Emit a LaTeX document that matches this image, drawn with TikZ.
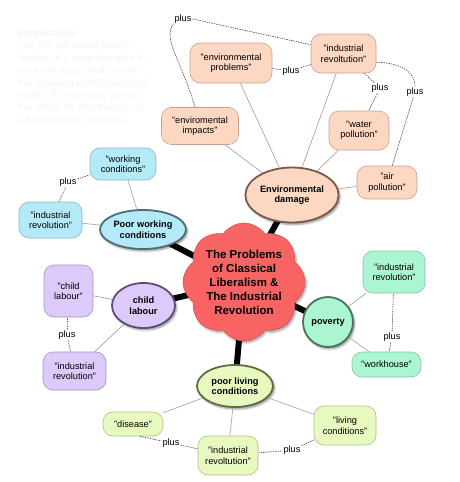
\documentclass[tikz,border=0pt]{standalone}
\usepackage{fontspec}
\setmainfont{Liberation Sans}
\usetikzlibrary{shapes.geometric,shapes.symbols,backgrounds,shadows.blur}
\definecolor{cCore}{HTML}{F86464}
\definecolor{cCoreEdge}{HTML}{E25050}
\definecolor{cEnvSoft}{HTML}{FCD7C1}
\definecolor{cEnvEdge}{HTML}{C9A391}
\definecolor{cEnvDark}{HTML}{7A5A4B}
\definecolor{cWorkSoft}{HTML}{B4EAF8}
\definecolor{cWorkEdge}{HTML}{8DB5C3}
\definecolor{cWorkDark}{HTML}{4E6B76}
\definecolor{cChildSoft}{HTML}{DCCAFA}
\definecolor{cChildEdge}{HTML}{A595C1}
\definecolor{cChildDark}{HTML}{5D4C77}
\definecolor{cPovSoft}{HTML}{ABF5D2}
\definecolor{cPovEdge}{HTML}{85C1A5}
\definecolor{cPovDark}{HTML}{4A725F}
\definecolor{cLiveSoft}{HTML}{E8F9BF}
\definecolor{cLiveEdge}{HTML}{ADBD8B}
\definecolor{cLiveDark}{HTML}{5E6D44}
\definecolor{cFaint}{HTML}{F4F4F4}
\tikzset{
  box/.style   = {rectangle, rounded corners=10pt, draw=#1Edge, fill=#1Soft, line width=0.6pt,
                  align=center, inner sep=2pt, font=\fontsize{9.2}{10.5}\selectfont},
  hub/.style   = {ellipse, draw=#1Dark, fill=#1Soft, line width=1.8pt, align=center, inner sep=1pt,
                  font=\fontsize{9.2}{10.5}\selectfont\bfseries,
                  blur shadow={shadow xshift=1.5pt, shadow yshift=-2pt, shadow blur radius=2pt, shadow opacity=45}},
  tie/.style   = {draw=#1Dark!55, line width=0.7pt},
  dl/.style    = {draw=black!75, line width=0.6pt, dash pattern=on 1.4pt off 1pt},
  lab/.style   = {font=\fontsize{9.2}{10.5}\selectfont, inner sep=1pt},
  spoke/.style = {draw=black, line width=6pt},
}

\begin{document}
\begin{tikzpicture}[x=1pt, y=1pt]
  \useasboundingbox (0,0) rectangle (459,-482);

  % faint instructions
  \node[anchor=north west, align=left, text=cFaint, inner sep=0pt,
        font=\fontsize{10}{12.4}\selectfont] (note) at (18,-29)
    {\textbf{Instructions:}\\Use the advanced search\\feature of a search engine to\\seek out pages that contain\\the following combinations of\\words. If necessary, consult\\the toolkit for information on\\advanced web searches.};

  % centre
  \node[cloud, cloud puffs=8, cloud puff arc=110, aspect=1.05, minimum width=122pt, minimum height=118pt,
        fill=cCore, draw=cCoreEdge, line width=0.6pt, align=center, inner sep=0pt,
        font=\fontsize{11.5}{14}\selectfont\bfseries,
        blur shadow={shadow xshift=1.5pt, shadow yshift=-2pt, shadow blur radius=2pt, shadow opacity=35}]
    (core) at (244,-282) {The Problems\\of Classical\\Liberalism \&\\The Industrial\\Revolution};

  % hubs
  \node[hub=cEnv, minimum width=91pt, minimum height=55pt] (env) at (292,-195) {Environmental\\damage};
  \node[hub=cWork, minimum width=83pt, minimum height=39pt] (work) at (143,-229.5) {Poor working\\conditions};
  \node[hub=cChild, minimum width=63pt, minimum height=45pt] (child) at (143.5,-305.5) {child\\labour};
  \node[hub=cPov, circle, minimum size=50pt] (pov) at (328,-322) {poverty};
  \node[hub=cLive, minimum width=76pt, minimum height=42pt] (live) at (235,-386) {poor living\\conditions};

  \begin{scope}[on background layer]
    \foreach \h in {env,work,child,pov,live}
      \draw[spoke] (core.center) -- (\h.center);
  \end{scope}

  % environmental damage
  \node[box=cEnv, minimum width=82pt, minimum height=40pt] (envprob) at (231,-63) {"environmental\\problems"};
  \node[box=cEnv, minimum width=65pt, minimum height=39pt] (envind) at (343.5,-53.5) {"industrial\\revoltution"};
  \node[box=cEnv, minimum width=77pt, minimum height=37pt] (envimp) at (200,-126) {"enviromental\\impacts"};
  \node[box=cEnv, minimum width=60pt, minimum height=39pt] (water) at (359,-130.5) {"water\\pollution"};
  \node[box=cEnv, minimum width=60pt, minimum height=33pt] (air) at (387,-182.5) {"air\\pollution"};
  \foreach \b in {envprob,envind,envimp,water,air}
    \draw[tie=cEnv] (env) -- (\b);
  \node[lab] (plus1) at (183,-19) {plus};
  \node[lab] (plus2) at (291,-71) {plus};
  \node[lab] (plus3) at (380,-88) {plus};
  \node[lab] (plus4) at (415,-92) {plus};
  \draw[dl] ([xshift=-5pt]envimp.north) .. controls (182,-62) and (162,-38) .. (plus1.south west);
  \draw[dl] (plus1.east) -- (envind.165);
  \draw[dl] (envprob) -- (plus2);
  \draw[dl] (plus2) -- (envind);
  \draw[dl] (envind) -- (plus3);
  \draw[dl] (plus3) -- (water);
  \draw[dl] (envind.-15) to[out=0, in=90] (plus4.north);
  \draw[dl] (plus4) -- (air);

  % poor working conditions
  \node[box=cWork, minimum width=66pt, minimum height=32pt] (workcond) at (123,-164) {"working\\conditions"};
  \node[box=cWork, minimum width=63pt, minimum height=36pt] (workind) at (50.5,-220) {"industrial\\revolution"};
  \foreach \b in {workcond,workind}
    \draw[tie=cWork] (work) -- (\b);
  \node[lab] (plus5) at (68,-182) {plus};
  \draw[dl] (plus5) -- (workcond);
  \draw[dl] (plus5) -- (workind);

  % child labour
  \node[box=cChild, minimum width=49pt, minimum height=52pt] (childbox) at (68.5,-291) {"child\\labour"};
  \node[box=cChild, minimum width=63pt, minimum height=38pt] (childind) at (74.5,-371) {"industrial\\revolution"};
  \foreach \b in {childbox,childind}
    \draw[tie=cChild] (child) -- (\b);
  \node[lab] (plus6) at (67,-335) {plus};
  \draw[dl] (plus6) -- (childbox);
  \draw[dl] (plus6) -- (childind);

  % poverty
  \node[box=cPov, minimum width=62pt, minimum height=42pt] (povind) at (394,-272) {"industrial\\revolution"};
  \node[box=cPov, minimum width=69pt, minimum height=25pt] (workhouse) at (386.5,-364.5) {"workhouse"};
  \foreach \b in {povind,workhouse}
    \draw[tie=cPov] (pov) -- (\b);
  \node[lab] (plus7) at (392,-337) {plus};
  \draw[dl] (plus7) -- (povind);
  \draw[dl] (plus7) -- (workhouse);

  % poor living conditions
  \node[box=cLive, minimum width=60pt, minimum height=24pt] (disease) at (133,-424) {"disease"};
  \node[box=cLive, minimum width=60pt, minimum height=39pt] (liveind) at (228,-455.5) {"industrial\\revoltution"};
  \node[box=cLive, minimum width=62pt, minimum height=39pt] (livecond) at (345,-425.5) {"living\\conditions"};
  \foreach \b in {disease,liveind,livecond}
    \draw[tie=cLive] (live) -- (\b);
  \node[lab] (plus8) at (171,-443) {plus};
  \node[lab] (plus9) at (292,-450) {plus};
  \draw[dl] (disease.-60) -- (plus8);
  \draw[dl] (plus8) -- (liveind);
  \draw[dl] (liveind) -- (plus9);
  \draw[dl] (plus9) -- (livecond);
\end{tikzpicture}
\end{document}
